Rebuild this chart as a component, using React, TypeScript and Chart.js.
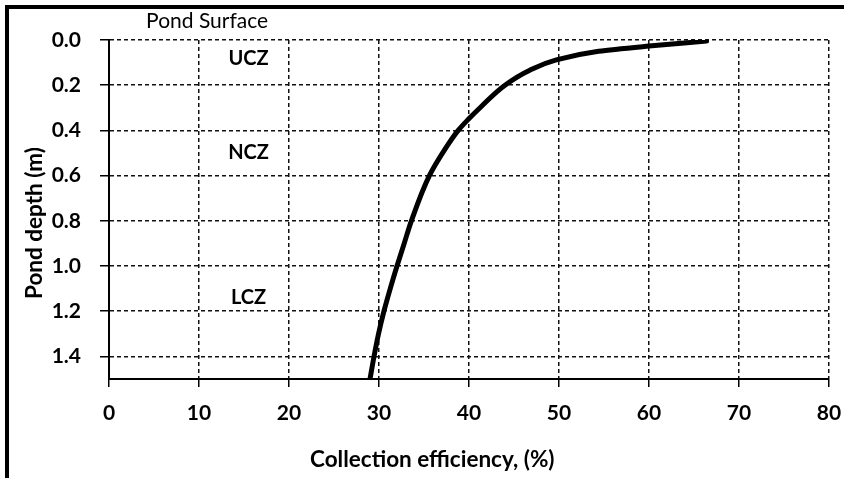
import React, { useEffect, useRef } from "react";
import { Chart, registerables } from "chart.js";

Chart.register(...registerables);

// Collection efficiency (%) vs pond depth (m)
const efficiency = [29.0, 29.45, 29.95, 30.55, 31.25, 32.0, 32.8, 33.6, 35.6, 37.3, 38.8, 39.9, 41.4, 44.0, 46.7, 49.7, 54.4, 60.0, 66.4];
const depth = [1.5, 1.4, 1.3, 1.2, 1.1, 1.0, 0.9, 0.8, 0.6, 0.485, 0.4, 0.352, 0.293, 0.2, 0.135, 0.088, 0.05, 0.027, 0.005];

const xTicks = [0, 10, 20, 30, 40, 50, 60, 70, 80];
const yTicks = [0, 0.2, 0.4, 0.6, 0.8, 1.0, 1.2, 1.4];

const zoneLabels = ["UCZ", "NCZ", "LCZ"];
const zoneDepths = [0.08, 0.5, 1.14];
const zoneEfficiency = 15.5;

const surfaceLabel = "Pond Surface";
const surfaceEfficiency = 10.9;

const xTitle = "Collection efficiency, (%)";
const yTitle = "Pond depth (m)";

const FONT = "Lato, 'Open Sans', sans-serif";

const textPlugin = {
  id: "texts",
  afterDraw(chart: any) {
    const { ctx, chartArea } = chart;
    const xs = chart.scales.x;
    const ys = chart.scales.y;
    ctx.save();
    ctx.fillStyle = "#000";
    ctx.textAlign = "center";
    ctx.textBaseline = "middle";
    ctx.font = `bold 20px ${FONT}`;
    zoneLabels.forEach((t, i) => {
      ctx.fillText(t, xs.getPixelForValue(zoneEfficiency), ys.getPixelForValue(zoneDepths[i]));
    });
    ctx.font = `21px ${FONT}`;
    ctx.fillText(surfaceLabel, xs.getPixelForValue(surfaceEfficiency), chartArea.top - 19);
    ctx.font = `bold 22.5px ${FONT}`;
    const w = chartArea.right - chartArea.left;
    const h = chartArea.bottom - chartArea.top;
    ctx.fillText(xTitle, chartArea.left + 0.449 * w, chartArea.bottom + 81);
    ctx.translate(chartArea.left - 74, chartArea.top + 0.54 * h);
    ctx.rotate(-Math.PI / 2);
    ctx.fillText(yTitle, 0, 0);
    ctx.restore();
  },
};

export default function App() {
  const ref = useRef<HTMLCanvasElement | null>(null);
  useEffect(() => {
    if (!ref.current) return;
    const tickFont = { family: FONT, size: 21, weight: "bold" as const };
    const chart = new Chart(ref.current, {
      type: "line",
      data: {
        datasets: [
          {
            data: efficiency.map((x, i) => ({ x, y: depth[i] })),
            borderColor: "#000",
            borderWidth: 5,
            pointRadius: 0,
            cubicInterpolationMode: "monotone",
            fill: false,
            borderCapStyle: "round",
            borderJoinStyle: "round",
          },
        ],
      },
      options: {
        indexAxis: "y",
        animation: false,
        responsive: false,
        maintainAspectRatio: false,
        layout: { padding: { left: 0, right: 15, top: 40, bottom: 0 } },
        plugins: { legend: { display: false }, tooltip: { enabled: false } },
        scales: {
          x: {
            type: "linear",
            position: "bottom",
            min: 0,
            max: 80,
            afterBuildTicks: (s: any) => {
              s.ticks = xTicks.map((v) => ({ value: v }));
            },
            afterFit: (s: any) => {
              s.height = 99;
              s.paddingLeft = 0;
              s.paddingRight = 0;
            },
            grid: { color: "#111", lineWidth: 1.5, tickLength: 8, tickColor: "#000", tickWidth: 1.5 },
            border: { color: "#000", width: 2, dash: [4, 3] },
            ticks: { font: tickFont, color: "#000", padding: 14, maxRotation: 0, autoSkip: false },
          },
          y: {
            type: "linear",
            position: "left",
            reverse: true,
            min: 0,
            max: 1.5,
            afterBuildTicks: (s: any) => {
              s.ticks = yTicks.map((v) => ({ value: v }));
            },
            afterFit: (s: any) => {
              s.width = 109;
              s.paddingTop = 0;
              s.paddingBottom = 0;
            },
            grid: { color: "#111", lineWidth: 1.5, tickLength: 9, tickColor: "#000", tickWidth: 1.5 },
            border: { color: "#000", width: 2, dash: [4, 3] },
            ticks: {
              font: tickFont,
              color: "#000",
              padding: 19,
              autoSkip: false,
              callback: (v: any) => Number(v).toFixed(1),
            },
          },
        },
      },
      plugins: [textPlugin],
    });
    return () => chart.destroy();
  }, []);

  return (
    <div style={{ position: "fixed", left: 0, top: 0, width: 844, height: 478, background: "#fff", overflow: "hidden" }}>
      <canvas ref={ref} width={844} height={478} style={{ position: "absolute", left: 0, top: 0, width: 844, height: 478 }} />
      <div style={{ position: "absolute", left: 5, top: 5, width: 839, height: 4, background: "#000" }} />
      <div style={{ position: "absolute", left: 5, top: 5, width: 4, height: 473, background: "#000" }} />
    </div>
  );
}
